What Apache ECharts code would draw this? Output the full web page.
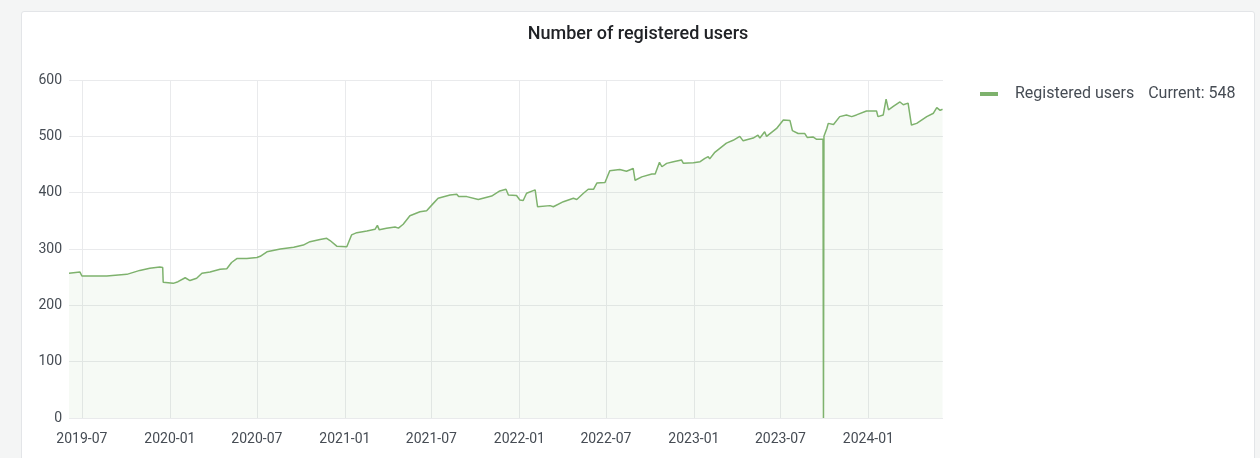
<!DOCTYPE html>
<html>
<head>
<meta charset="utf-8">
<script src="https://cdn.jsdelivr.net/npm/echarts@6/dist/echarts.min.js"></script>
<style>
  html, body { margin: 0; padding: 0; width: 1260px; height: 458px; overflow: hidden; background: #f4f5f5; font-family: Roboto, sans-serif; }
  #panel { position: absolute; left: 21px; top: 11px; width: 1232px; height: 470px; background: #fff; border: 1px solid #e3e5e8; border-radius: 3px; }
  #chart { position: absolute; left: 21px; top: 11px; width: 1234px; height: 447px; }
</style>
</head>
<body>
<div id="panel"></div>
<div id="chart"></div>
<script>
const chartTitle = 'Number of registered users';
const seriesName = 'Registered users';
const tickLabels = ['2019-07','2020-01','2020-07','2021-01','2021-07','2022-01','2022-07','2023-01','2023-07','2024-01'];
const yTicks = [0, 100, 200, 300, 400, 500, 600];
const dates = [
 '2019-06-04','2019-06-27','2019-07-01','2019-08-22','2019-10-03','2019-10-30','2019-11-20','2019-12-11','2019-12-17','2019-12-18',
 '2020-01-08','2020-01-18','2020-02-02','2020-02-12','2020-02-26','2020-03-08','2020-03-25','2020-04-15','2020-04-29','2020-05-09',
 '2020-05-20','2020-06-10','2020-07-01','2020-07-08','2020-07-22','2020-08-19','2020-09-16','2020-10-06','2020-10-20','2020-11-10',
 '2020-11-24','2020-12-01','2020-12-15','2021-01-05','2021-01-08','2021-01-15','2021-01-26','2021-02-16','2021-03-05','2021-03-10',
 '2021-03-14','2021-03-29','2021-04-16','2021-04-23','2021-05-03','2021-05-17','2021-06-07','2021-06-21','2021-07-05','2021-07-15',
 '2021-07-19','2021-08-09','2021-08-23','2021-08-27','2021-09-13','2021-10-07','2021-10-25','2021-11-04','2021-11-21','2021-12-04',
 '2021-12-09','2021-12-26','2022-01-02','2022-01-09','2022-01-16','2022-02-03','2022-02-06','2022-02-08','2022-03-06','2022-03-13',
 '2022-04-03','2022-04-24','2022-05-01','2022-05-15','2022-05-25','2022-06-05','2022-06-12','2022-06-29','2022-07-09','2022-07-13',
 '2022-07-30','2022-08-13','2022-08-27','2022-08-31','2022-09-14','2022-10-05','2022-10-12','2022-10-21','2022-10-26','2022-11-05',
 '2022-11-19','2022-12-06','2022-12-10','2022-12-31','2023-01-14','2023-01-24','2023-01-31','2023-02-03','2023-02-13','2023-03-10',
 '2023-03-24','2023-04-07','2023-04-14','2023-05-05','2023-05-15','2023-05-19','2023-05-29','2023-06-02','2023-06-23','2023-07-07',
 '2023-07-10','2023-07-21','2023-07-26','2023-08-07','2023-08-21','2023-08-26','2023-09-07','2023-09-14','2023-09-28','2023-09-29',
 '2023-09-30','2023-10-06','2023-10-09','2023-10-20','2023-11-02','2023-11-16','2023-11-27','2023-12-07','2023-12-28','2024-01-18',
 '2024-01-21','2024-02-01','2024-02-07','2024-02-12','2024-02-22','2024-03-07','2024-03-14','2024-03-24','2024-03-28','2024-03-31',
 '2024-04-11','2024-05-02','2024-05-16','2024-05-23','2024-05-30','2024-06-04'
];
const users = [
 257,259,252,252,255,262,266,268,267,241,
 239,242,249,244,248,257,259,264,265,276,
 283,283,285,287,295,300,303,307,313,317,
 319,315,305,304,303,325,329,332,335,342,
 334,337,339,337,344,359,366,368,381,390,
 393,396,397,393,393,388,392,394,403,406,
 396,395,387,386,399,405,406,375,377,375,
 384,390,388,399,406,406,417,418,439,440,
 441,438,443,422,428,433,433,454,446,452,
 455,458,452,453,455,461,464,460,471,488,
 493,500,492,497,502,497,508,500,514,529,
 532,528,510,505,505,498,499,495,495,0,
 500,514,523,521,535,538,535,538,545,545,
 535,538,566,547,553,561,556,559,562,520,
 523,535,541,551,546,548
];
const rangeStart = '2019-06-04';
const rangeEnd = '2024-06-05';

function ts(s) {
  const p = s.split('-').map(Number);
  return Date.UTC(p[0], p[1] - 1, p[2] || 1);
}
const seriesData = dates.map((d, i) => [ts(d), users[i]]);
const tickValues = tickLabels.map(ts);
const current = users[users.length - 1];

const gridColor = '#e9eaec';
const chart = echarts.init(document.getElementById('chart'), null, { renderer: 'canvas' });
chart.setOption({
  animation: false,
  backgroundColor: 'transparent',
  title: {
    text: chartTitle,
    left: 'center',
    top: 14,
    padding: 0,
    textStyle: { fontFamily: 'Roboto', fontSize: 18, fontWeight: 500, color: '#202226' }
  },
  legend: {
    left: 954,
    top: 70,
    icon: 'rect',
    itemWidth: 18,
    itemHeight: 4,
    data: [seriesName],
    formatter: function (name) { return '{n|' + name + '}{c|Current: ' + current + '}'; },
    textStyle: {
      fontFamily: 'Roboto', fontSize: 16, color: '#464c54',
      rich: {
        n: { fontFamily: 'Roboto', fontSize: 16, color: '#464c54', padding: [0, 0, 0, 12] },
        c: { fontFamily: 'Roboto', fontSize: 16, color: '#464c54', padding: [0, 0, 0, 14] }
      }
    }
  },
  grid: { left: 48, right: 312, top: 69, bottom: 40, containLabel: false },
  xAxis: {
    type: 'value',
    min: ts(rangeStart),
    max: ts(rangeEnd),
    axisLine: { show: false },
    axisTick: { show: false, customValues: tickValues },
    axisLabel: {
      customValues: tickValues,
      margin: 14,
      fontFamily: 'Roboto', fontSize: 14, color: '#464c54',
      formatter: function (v) { const i = tickValues.indexOf(v); return i >= 0 ? tickLabels[i] : ''; }
    },
    splitLine: { show: true, lineStyle: { color: gridColor, width: 1 } }
  },
  yAxis: {
    type: 'value',
    min: yTicks[0],
    max: yTicks[yTicks.length - 1],
    interval: 100,
    axisLine: { show: false },
    axisTick: { show: false },
    axisLabel: { margin: 7, fontFamily: 'Roboto', fontSize: 14, color: '#464c54' },
    splitLine: { show: true, lineStyle: { color: gridColor, width: 1 } }
  },
  series: [{
    name: seriesName,
    type: 'line',
    data: seriesData,
    showSymbol: false,
    symbol: 'none',
    lineStyle: { color: '#7eb26d', width: 1.5 },
    itemStyle: { color: '#7eb26d' },
    areaStyle: { color: 'rgba(126,178,109,0.10)', origin: 'start' }
  }]
});
</script>
</body>
</html>
